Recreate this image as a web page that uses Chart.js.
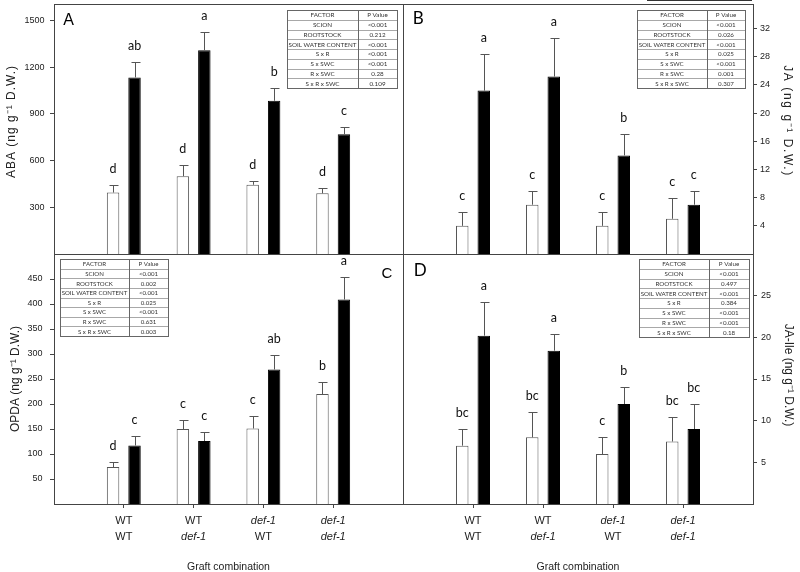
<!DOCTYPE html>
<html><head><meta charset="utf-8">
<script src="https://cdn.jsdelivr.net/npm/chart.js@4.4.1/dist/chart.umd.min.js"></script>
<style>
html,body{margin:0;padding:0;background:#fff;}
#wrap{position:relative;width:800px;height:572px;overflow:hidden;}
canvas{position:absolute;left:0;top:0;}
</style></head><body>
<div id="wrap">
<canvas id="cA" width="800" height="572"></canvas>
<canvas id="cB" width="800" height="572"></canvas>
<canvas id="cC" width="800" height="572"></canvas>
<canvas id="cD" width="800" height="572"></canvas>
</div>
<script>
// ---------- data ----------
const scionLabels = ['WT', 'WT', 'def-1', 'def-1'];
const rootstockLabels = ['WT', 'def-1', 'WT', 'def-1'];
const factorNames = ['SCION', 'ROOTSTOCK', 'SOIL WATER CONTENT', 'S x R', 'S x SWC', 'R x SWC', 'S x R x SWC'];

// A: ABA
const abaWhite = [395, 500, 445, 390];
const abaWhiteErr = [50, 70, 25, 32];
const abaBlack = [1135, 1310, 985, 770];
const abaBlackErr = [100, 120, 80, 45];
const abaWhiteLetters = ['d', 'd', 'd', 'd'];
const abaBlackLetters = ['ab', 'a', 'b', 'c'];
const abaTicks = [300, 600, 900, 1200, 1500];
const abaP = ['<0.001', '0.212', '<0.001', '<0.001', '<0.001', '0.28', '0.109'];

// B: JA
const jaWhite = [4, 7, 4, 5];
const jaWhiteErr = [2, 2, 2, 3];
const jaBlack = [23.2, 25.2, 14, 7];
const jaBlackErr = [5.2, 5.5, 3, 2];
const jaWhiteLetters = ['c', 'c', 'c', 'c'];
const jaBlackLetters = ['a', 'a', 'b', 'c'];
const jaTicks = [4, 8, 12, 16, 20, 24, 28, 32];
const jaP = ['<0.001', '0.026', '<0.001', '0.025', '<0.001', '0.001', '0.307'];

// C: OPDA
const opdaWhite = [74, 150, 151, 220];
const opdaWhiteErr = [10, 19, 25, 25];
const opdaBlack = [117, 126, 269, 409];
const opdaBlackErr = [20, 19, 30, 45];
const opdaWhiteLetters = ['d', 'c', 'c', 'b'];
const opdaBlackLetters = ['c', 'c', 'ab', 'a'];
const opdaTicks = [50, 100, 150, 200, 250, 300, 350, 400, 450];
const opdaP = ['<0.001', '0.002', '<0.001', '0.025', '<0.001', '0.631', '0.003'];

// D: JA-Ile
const jaileWhite = [7, 8, 6, 7.5];
const jaileWhiteErr = [2, 3, 2, 3];
const jaileBlack = [20.2, 18.4, 12, 9];
const jaileBlackErr = [4.1, 2, 2, 3];
const jaileWhiteLetters = ['bc', 'bc', 'c', 'bc'];
const jaileBlackLetters = ['a', 'a', 'b', 'bc'];
const jaileTicks = [5, 10, 15, 20, 25];
const jaileP = ['<0.001', '0.497', '<0.001', '0.384', '<0.001', '<0.001', '0.18'];

// ---------- drawing ----------
const SANS = "'Liberation Sans', Arial, sans-serif";
const HUM = "Lato, 'Open Sans', sans-serif";
const W = 800, H = 572;

function drawTable(ctx, t, pvals) {
  const rows = [['FACTOR', 'P Value']].concat(factorNames.map((f, i) => [f, pvals[i]]));
  const rh = (t.y1 - t.y0) / rows.length;
  ctx.save();
  ctx.fillStyle = '#fff';
  ctx.fillRect(t.x0, t.y0, t.x1 - t.x0, t.y1 - t.y0);
  ctx.lineWidth = 1;
  ctx.strokeStyle = '#a8a8a8';
  ctx.beginPath();
  for (let i = 1; i < rows.length; i++) {
    const y = Math.round(t.y0 + i * rh) + 0.5;
    ctx.moveTo(t.x0, y); ctx.lineTo(t.x1, y);
  }
  ctx.stroke();
  ctx.strokeStyle = '#666';
  ctx.beginPath();
  ctx.moveTo(Math.round(t.xd) + 0.5, t.y0); ctx.lineTo(Math.round(t.xd) + 0.5, t.y1);
  ctx.stroke();
  ctx.strokeRect(Math.round(t.x0) + 0.5, Math.round(t.y0) + 0.5, Math.round(t.x1 - t.x0), Math.round(t.y1 - t.y0));
  let fs = 6.8;
  ctx.font = fs + 'px ' + HUM;
  while (ctx.measureText('SOIL WATER CONTENT').width > (t.xd - t.x0 - 3) && fs > 4) {
    fs -= 0.1; ctx.font = fs + 'px ' + HUM;
  }
  ctx.fillStyle = '#333';
  ctx.textAlign = 'center';
  ctx.textBaseline = 'middle';
  rows.forEach((r, i) => {
    const yc = t.y0 + (i + 0.5) * rh + 0.5;
    ctx.fillText(r[0], (t.x0 + t.xd) / 2, yc);
    ctx.fillText(r[1], (t.xd + t.x1) / 2, yc);
  });
  ctx.restore();
}

const extras = {
  id: 'extras',
  beforeDraw(chart, args, o) {
    const s = chart.scales.y;
    if (s && !s._titlePatched) {
      const orig = s.drawTitle;
      s.drawTitle = function () {
        const c = this.ctx;
        c.save();
        if ('letterSpacing' in c) c.letterSpacing = (o.titleSpacing || 0) + 'px';
        c.translate(0, o.titleShift || 0);
        orig.call(this);
        c.restore();
      };
      s._titlePatched = true;
    }
  },
  afterDraw(chart, args, o) {
    const ctx = chart.ctx, a = chart.chartArea;
    const ys = chart.scales.y, xs = chart.scales.x;
    ctx.save();
    // frame
    ctx.strokeStyle = '#444'; ctx.lineWidth = 1;
    ctx.strokeRect(Math.round(a.left) + 0.5, Math.round(a.top) + 0.5, Math.round(a.right - a.left), Math.round(a.bottom - a.top));
    // error bars and letters
    chart.data.datasets.forEach((ds, di) => {
      const meta = chart.getDatasetMeta(di);
      meta.data.forEach((el, j) => {
        const v = ds.data[j].y, e = ds.errors[j];
        const top = Math.round(ys.getPixelForValue(v + e)) + 0.5;
        const x = Math.round(el.x) + 0.5;
        ctx.strokeStyle = '#555'; ctx.lineWidth = 1;
        ctx.beginPath();
        ctx.moveTo(x, el.y); ctx.lineTo(x, top);
        ctx.moveTo(x - 4, top); ctx.lineTo(x + 5, top);
        ctx.stroke();
        ctx.fillStyle = '#111';
        ctx.font = '12.5px ' + HUM;
        ctx.textAlign = 'center'; ctx.textBaseline = 'alphabetic';
        ctx.fillText(ds.letters[j], el.x, top - 13);
      });
    });
    // table
    drawTable(ctx, o.table, o.pvals);
    // panel letter
    ctx.fillStyle = '#000';
    ctx.font = o.letterFont;
    ctx.textAlign = 'center'; ctx.textBaseline = 'middle';
    ctx.fillText(o.letter, o.letterPos[0], o.letterPos[1]);
    // x category labels
    if (o.showX) {
      scionLabels.forEach((s, i) => {
        const x = xs.getPixelForValue(i + 1);
        const r = rootstockLabels[i];
        ctx.fillStyle = '#222';
        ctx.font = (s === 'WT' ? '' : 'italic ') + '11px ' + SANS;
        ctx.fillText(s, x, 521);
        ctx.font = (r === 'WT' ? '' : 'italic ') + '11px ' + SANS;
        ctx.fillText(r, x, 537);
      });
    }
    if (o.topLine) {
      ctx.strokeStyle = '#333';
      ctx.beginPath(); ctx.moveTo(o.topLine[0], 0.5); ctx.lineTo(o.topLine[1], 0.5); ctx.stroke();
    }
    ctx.restore();
  }
};

function makePanel(id, cfg) {
  const isLeft = cfg.yPos === 'left';
  const hasX = cfg.showX;
  const ar = cfg.area;
  const padding = {
    top: ar.top,
    bottom: hasX ? 0 : H - ar.bottom,
    left: isLeft ? cfg.outerPad : ar.left,
    right: isLeft ? W - ar.right : cfg.outerPad
  };
  const yWidth = isLeft ? ar.left - cfg.outerPad : (W - cfg.outerPad) - ar.right;
  const mk = (vals, errs, letters, fill, border) => ({
    data: vals.map((v, i) => ({ x: i + 1, y: v })),
    errors: errs, letters: letters,
    backgroundColor: fill, borderColor: border, borderWidth: 1,
    barPercentage: 0.58, categoryPercentage: 0.615
  });
  return new Chart(document.getElementById(id), {
    type: 'bar',
    data: {
      datasets: [
        Object.assign(mk(cfg.white, cfg.whiteErr, cfg.whiteLetters, '#ffffff', '#555555'), { label: 'Well watered' }),
        Object.assign(mk(cfg.black, cfg.blackErr, cfg.blackLetters, '#000000', '#000000'), { label: 'Water deficit' })
      ]
    },
    options: {
      responsive: false, animation: false, devicePixelRatio: 1,
      layout: { padding: padding },
      plugins: {
        legend: { display: false }, tooltip: { enabled: false },
        extras: {
          table: cfg.table, pvals: cfg.pvals, letter: cfg.letter, letterPos: cfg.letterPos,
          letterFont: cfg.letterFont, showX: hasX, topLine: cfg.topLine,
          titleSpacing: cfg.titleSpacing, titleShift: cfg.titleShift
        }
      },
      scales: {
        x: {
          type: 'linear', min: 0, max: 5, offset: false, display: hasX,
          grid: { offset: false, drawOnChartArea: false, drawTicks: true, tickLength: 4, color: '#444' },
          border: { display: false },
          ticks: { display: false },
          afterBuildTicks: s => { s.ticks = scionLabels.map((_, i) => ({ value: i + 1 })); },
          afterFit: s => { s.height = hasX ? H - ar.bottom : 0; s.paddingLeft = 0; s.paddingRight = 0; },
          title: { display: hasX, text: 'Graft combination', color: '#222', padding: 0,
                   font: { family: SANS, size: 10.5, lineHeight: 1 } }
        },
        y: {
          position: cfg.yPos, min: 0, max: cfg.yMax,
          afterBuildTicks: s => { s.ticks = cfg.ticks.map(v => ({ value: v })); },
          ticks: { font: { family: SANS, size: 9 }, color: '#222', padding: cfg.tickPad, callback: v => String(v) },
          grid: { drawOnChartArea: false, drawTicks: true, tickLength: 4, color: '#444' },
          border: { display: true, color: '#444' },
          title: { display: true, text: cfg.title, color: '#222', padding: 0, font: { family: SANS, size: 12 } },
          afterFit: s => { s.width = yWidth; s.paddingTop = 0; s.paddingBottom = 0; }
        }
      }
    },
    plugins: [extras]
  });
}

makePanel('cA', {
  white: abaWhite, whiteErr: abaWhiteErr, black: abaBlack, blackErr: abaBlackErr,
  whiteLetters: abaWhiteLetters, blackLetters: abaBlackLetters,
  ticks: abaTicks, yMax: 1607, yPos: 'left', outerPad: 4, tickPad: 5.5,
  title: 'ABA (ng g\u207B\u00B9 D.W.)', titleSpacing: 1, titleShift: -7.5,
  area: { left: 54, right: 403, top: 4, bottom: 254 }, showX: false,
  table: { x0: 287, x1: 397, xd: 358, y0: 10, y1: 88 }, pvals: abaP,
  letter: 'A', letterPos: [68.7, 20.5], letterFont: '16px ' + SANS
});
makePanel('cB', {
  white: jaWhite, whiteErr: jaWhiteErr, black: jaBlack, blackErr: jaBlackErr,
  whiteLetters: jaWhiteLetters, blackLetters: jaBlackLetters,
  ticks: jaTicks, yMax: 35.5, yPos: 'right', outerPad: 5, tickPad: 3,
  title: 'JA (ng g\u207B\u00B9 D.W.)', titleSpacing: 1.6, titleShift: -8,
  area: { left: 403, right: 753, top: 4, bottom: 254 }, showX: false,
  table: { x0: 637, x1: 745, xd: 707, y0: 10, y1: 88 }, pvals: jaP,
  letter: 'B', letterPos: [418.3, 18.5], letterFont: '17px ' + HUM, topLine: [647, 752]
});
makePanel('cC', {
  white: opdaWhite, whiteErr: opdaWhiteErr, black: opdaBlack, blackErr: opdaBlackErr,
  whiteLetters: opdaWhiteLetters, blackLetters: opdaBlackLetters,
  ticks: opdaTicks, yMax: 500, yPos: 'left', outerPad: 8, tickPad: 7.5,
  title: 'OPDA (ng g\u207B\u00B9 D.W.)', titleSpacing: 0, titleShift: 0,
  area: { left: 54, right: 403, top: 254, bottom: 504 }, showX: true,
  table: { x0: 60, x1: 168, xd: 129, y0: 259, y1: 336 }, pvals: opdaP,
  letter: 'C', letterPos: [387, 274], letterFont: '15px ' + SANS
});
makePanel('cD', {
  white: jaileWhite, whiteErr: jaileWhiteErr, black: jaileBlack, blackErr: jaileBlackErr,
  whiteLetters: jaileWhiteLetters, blackLetters: jaileBlackLetters,
  ticks: jaileTicks, yMax: 30, yPos: 'right', outerPad: 4, tickPad: 4,
  title: 'JA-Ile (ng g\u207B\u00B9 D.W.)', titleSpacing: 0, titleShift: -4,
  area: { left: 403, right: 753, top: 254, bottom: 504 }, showX: true,
  table: { x0: 639, x1: 749, xd: 709, y0: 259, y1: 337 }, pvals: jaileP,
  letter: 'D', letterPos: [420.3, 271], letterFont: '17px ' + HUM
});
</script>
</body></html>
